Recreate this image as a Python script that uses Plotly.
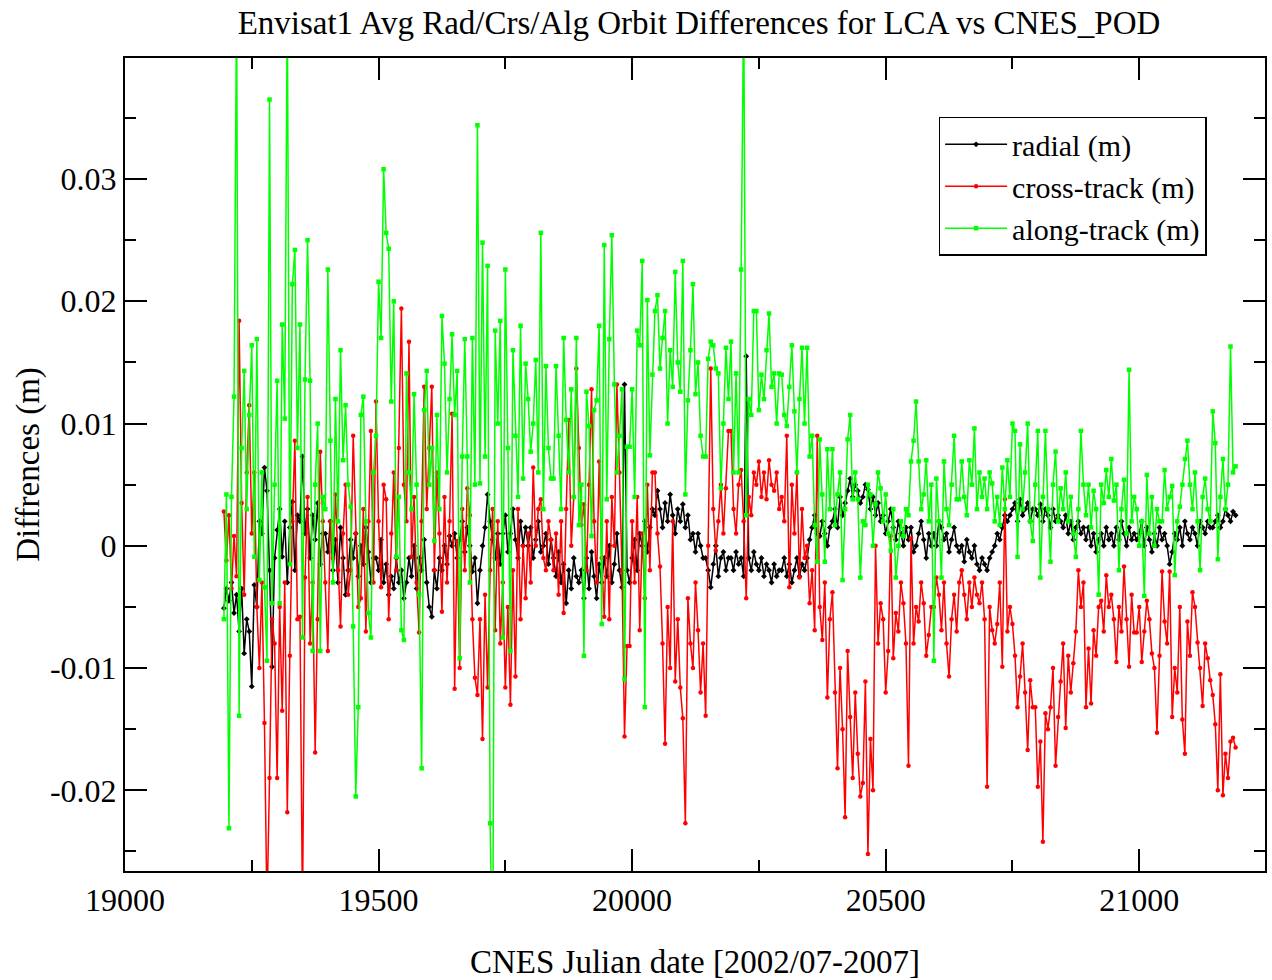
import plotly.graph_objects as go

# sampling of the orbit-difference series (CNES Julian days)
day_start = 19195
day_step = 5

# values in millimetres, 10 samples per line (50 days per line)
radial_mm = [
    -5.1, -3.5, -4.5, -3, -5.5, -4, -7, -3.5, -8.8, -6,
    -7, -11.5, -3.2, -5, 2, 1, 6.4, 4.5, -2, -9.9,
    -1, 1.3, 3, -0.9, 2, -3, 1.5, 3.6, -2, 2.5,
    2, 7.3, 1, 3, -1, 2.5, 0.5, 3.5, -1.5, 1,
    1, -0.5, 2, -2, 0.5, -3, 1.5, -1, -4, -2,
    0.5, -1, 1, -2.5, 0, -1.5, 1.5, -0.5, -3, -1,
    -1, -2, 0.5, -3, -1.5, -4, -2.5, -3.5, -1, -3,
    -2, -4.3, -3, -1, -2.5, 0, -3.5, -1, -2, 0.5,
    -3, -5, -5.8, -2, -3.5, -1, -2, 0, -1.5, 0.8,
    0, 1, -1, 0.5, 2, -0.5, 1.5, 0, -2.1, -1,
    -4.7, -2, 0, 1.5, 4.2, 2, 0.5, -1, 1, -1.5,
    1, 2.5, -0.5, 1, 3, 0.5, -1, 2, 0, 1.5,
    0, 1.5, -1, 0.5, 2, -0.5, 0, 1, -1.5, 0.5,
    -1, -2.5, -0.5, -3, -1.5, -4.7, -2, -3.5, -1, -2.5,
    -3, -2, -4.3, -1, -3.5, -0.5, -2.5, -4.3, -1.5, -3,
    -1, -2.5, 0, -3, -1.5, 1, -2, -3.4, 13.2, -2,
    -3, -1, 0.5, -2, 1, 0, 2, -0.5, 1.5, 3,
    2.5, 4.5, 3, 1.5, 3.5, 2, 4.2, 2.5, 1, 3,
    2, 3.4, 1.5, 2.5, 0.5, 1, -0.5, 1, 0, -1,
    -1, -2, -3.4, -1.5, 0, -2.5, -1, -0.5, -2, -1,
    -1, -2, -0.5, -1.5, -1, -2.5, 15.5, -1, -2, -0.5,
    -1.5, -2, -1, -2.5, -1.5, -2, -3, -1.5, -2.5, -2,
    -2, -1, -2.5, -1.5, -3, -2, -1, -2.5, -1.5, -2,
    -1, 0.5, 1.5, 2.5, 1, 0.8, 2, 1, 0, 1.5,
    2, 3, 1.5, 4, 2.5, 3.5, 4.5, 5.5, 4, 5,
    4.5, 3.5, 4, 5, 4.6, 3, 4, 2.5, 3.5, 2,
    2.5, 1, 2, 3, 1.5, 0.5, 2, 1, 0, 1.5,
    0.5, 1.5, -0.5, 0, 1, 2, 0.5, -1, 1, 0,
    1, 0, 2, 1.5, 0.5, 1, -0.5, 0.5, 1.5, 0,
    -0.5, 0, -1.3, 0.5, -0.5, -1, 0, -1.5, -2, -1,
    -1.5, -2, -1, -0.5, 0, 1, 0.5, 1.5, 2.5, 2,
    2.5, 3, 3.5, 2, 3.8, 2.5, 3, 3.5, 2, 3,
    3, 2.5, 3.4, 2, 3, 2.5, 1.5, 3, 2, 2.5,
    2, 1.5, 2.5, 1, 2, 0.5, 1.5, 2, 1, 1.5,
    0.5, 1.5, 0, 1, -0.5, 0.5, 1, 0, 1.5, 0.5,
    1, 0, 1.5, 0.5, 2, 1, 0, 1.5, 0.5, 1,
    0.5, 1, 2, 0, 1.5, 0.5, -0.5, 1, 0, 1.5,
    0.5, 1, 0, -1.5, -0.5, 1, 0.5, 1.5, 0, 2,
    1, 0.5, 1.5, 1, 0, 2, 1.5, 1, 2, 1.5,
    1.5, 2, 2.5, 1.5, 2, 3, 2.5, 2, 2.8, 2.5,
]

cross_track_mm = [
    2.8, -1.2, 2.5, -3.5, 0.8, -2.5, 18.4, 3.5, -4, 6,
    11.5, 1, 6, -5, -10, -3, -14.5, -30, -19, -6,
    -8, -19, -5, -13.5, -3, -21.8, -9, 2, 8.6, -6,
    -5.8, -30, -2.6, 4, -8, -3, -16.9, -6, 7.7, 2,
    -3, -8.6, 2, -1, 4.2, -2, -6.6, 1, 5, -4,
    -2, 9, 1, -5, -4.3, 3, -7, 2, 9.4, -3,
    11.8, 2, -3.4, 5, 3.8, -6, 1, 6, -2, 8,
    19.4, 5, 2, 16.7, -0.9, 4, -3, -7.1, 2, 13,
    3, 8, 13, -2, 6, 1, -5.4, 4, -3, 2,
    10.8, -11.7, 0.4, -10, 3, -2, 4.7, 2.5, -6, -10.8,
    -12.2, -6, -15.8, -4, -11.6, -2, 3, -6.9, 2, -8,
    -3, -11.6, -5, -13, -2, -10.7, 3, -6, 0, -4.3,
    1, -3, 6.4, 0, 3, 3.8, -1, -2, 2, 0.5,
    -2, 1, -4, 2, -5.5, 3, 10.3, 0, 4, 14.5,
    8, 1.7, 3.4, -2, 5, 12.8, 2, -3, 6.9, -1,
    -5.8, 2, -6, 4, 0, 13.2, 6, -2, -15.6, -8.2,
    -8.2, 2, -3, 4, -6.9, 1, -4.3, 5, -2, 6,
    6, 1, -1.7, -8, -16.2, -5, -10, 2, -11.1, -6,
    -11.6, -14.1, -22.7, -4.3, -8, -10, -3, -6.9, -12, -8,
    -13.9, 0, 14.5, 3, -0.4, 2, 5, 1, 4.7, 9.4,
    9.4, 3, 1, 5, 6.2, 2, -4.3, 4, 2.5, 6,
    5, 6.9, 4, 6, 3.8, 7, 5, 4.5, 6, 3,
    4, 2, 9, -3.4, 5, 1, 6, -2.6, 3, -1,
    0, -4.7, -2, -6.9, 9, -5, -7.7, -3, -12.4, -6,
    -3.8, -12, -18.2, -10, -15, -22.2, -8.6, -14, -19, -12,
    -17, -20.5, -19.4, -11.1, -25.2, -15.8, -20, 0, -8, -4.7,
    -6, -12, -8.6, 0.8, -9.2, -5.5, -7, -3, -4.7, -8,
    -18, 0.6, -8, -5, -6.2, -3, -4.7, -9, -7.3, -5,
    -5, -2.6, -4, -6.9, -3, -8, -10.7, -6, -4, -7,
    -3, -2, -4, -6, -3, -5, -2.6, -4, -4.7, -3,
    -6, -19.7, -5, -6.9, -8, -6.4, -3, -9.9, 3.8, -7,
    -5, -6.4, -9, -13.2, -10.7, -8, -12, -16.7, -11, -13.2,
    -13.2, -19.7, -16, -24.2, -13.7, -15, -13.2, -10, -18, -14,
    -11.1, -8, -14.9, -9, -12, -9.6, -7, -2, -5, -3,
    -13.2, -8.4, -12.9, -6.9, -9, -5, -4.5, -7, -2.4, -5,
    -4, -6, -9.5, -5, -7, -1.7, -6, -9.9, -4, -7.1,
    -7.1, -5, -9.5, -7, -4.5, -6, -8.8, -10, -15.3, -9,
    -2.1, -6.2, -8, -2.1, -14, -10, -12, -5, -14.2, -17,
    -6.2, -9, -3.8, -5, -7.9, -10, -13.1, -8, -9.2, -11,
    -12.2, -14.6, -20, -10.5, -20.4, -17, -19, -16, -15.7, -16.5,
]

along_track_mm = [
    -6, 4.2, -23.1, 4, 12.2, 45, -13.9, 8, 14.3, 3,
    10.7, 16.4, -0.9, 16.9, -2.8, 6, -3.4, -9.4, 36.5, -4.7,
    5, 13.5, -4.7, 18.1, 10.4, 45, -1.5, 21.4, 24.2, 8,
    18.1, -7.5, 13.6, 25, 13.5, -8.6, 5, 10, -8.6, 4,
    3, 22.6, 8.6, -3, 12, 2, 16, 7, 11.5, 5,
    3.2, -6.6, -20.5, -13.2, 10.7, 12.2, 2, -5.5, -7.5, 6,
    9, 21.6, 17, 30.8, 25.6, 24.3, 11.8, 20, -0.9, 4,
    -6.9, -7.7, 14.1, 6, 3, 12.4, 5, -4, -18.2, 11.1,
    14.3, 5, 8, 0.4, 10.7, 3, 18.8, 14.9, 6, 12,
    17.3, 10.7, 14.3, -9.2, 7.3, 16.9, 7.3, -3, 17, 5,
    34.4, 5.1, 24.8, 7.3, 22.9, -22.7, -35, 17.6, 10, 18.4,
    -7.5, 22.6, 8, -8.6, 16, 9, 4, 18, 5.5, 14.9,
    12, 7.7, 10, 15.2, 6, 25.6, 3, 14.7, 8, 5.5,
    5.5, 14.7, 9, 3, 17, 10.3, 6, 12.8, 4, 17,
    1.7, 5, -9, 12.6, 9.8, 0.8, 11.1, 11.9, 18, -6.4,
    24.6, 3.8, 16.9, 25.4, 13.2, 6, 9, 12.8, -10.9, 8.1,
    8.1, 12.8, 4, 17.6, 16.4, 23.3, -13.2, 20.1, 7.4, 14,
    19.2, 20.5, 14.5, 17, 19.2, 10, 16, 13, 22.4, 15,
    12.6, 23.3, 4.2, 11.9, 16, 21.4, 12.4, 15, 9, 7.3,
    7.3, 15.3, 16.7, 16.4, 14.5, 14.1, 4.7, 10, 16.2, 12,
    16.7, 6, 14.1, 6, 22.6, 45, 2.5, 12, 10.7, 19.2,
    19.2, 11.1, 14, 12, 16, 19, 13, 14.1, 10, 14.1,
    14, 10.7, 9.8, 13, 16.4, 11, 6, 12, 16.2, 10,
    16.2, 7.3, 9, 1.7, -1.3, 8.7, 4.2, -1.3, 7.9, 3,
    7.9, 1.7, 4.2, 6, -2.8, 3, 8.7, 10.7, 3.8, 6,
    3.8, -2.6, 2, 1.7, 5, 4.2, 0, 3.4, 6, 4.7,
    2, 4.2, 1, -0.4, 3, -2.6, 0, 2, 0.8, 3,
    2.5, 6.9, 8.6, 11.8, 6.9, 3, 4.2, 7, 2, 5,
    -9.4, 5.5, 2, -2.6, 6.9, 3, 1.7, 5, 9, 3.8,
    3.8, 6.9, 4, 2.5, 7, 5, 9.6, 3, 6, 4,
    5.5, 3, 6, 5.1, 2, 4, 1.7, 6.4, 3, 7,
    4, 10, 9.4, -0.9, 8.3, 3, 6, 10, 2, 0.4,
    5, 9.4, -2.6, 4, 9.4, 3, -1.3, 5, 7.7, 2,
    4.7, 3, 6, 2, 4, 1, -0.9, 3, 9.4, 5,
    2.5, 5, 1.5, 4.5, 3, -4, 5, 3.5, 6.2, 4,
    7.1, 3.7, 5, -2, 3, 5.4, 1, 14.4, 2, 4,
    3, 0, 2, -4.1, 5.8, 1, 4, 0, 3, 2,
    2, 6.2, 3, 4, 4.9, -2.4, 2, 3.2, 5, 7.1,
    8.6, 5, 3, 6, 2, -2, 4, 5.5, 3, 2,
    11, 8.4, -1.1, 4, 7.1, 3, 5, 16.3, 6, 6.5,
]

series_names = ["radial (m)", "cross-track (m)", "along-track (m)"]
series_colors = ["#000000", "#ff0000", "#00ff00"]
series_symbols = ["diamond", "circle", "square"]

y_tick_vals = [-0.02, -0.01, 0, 0.01, 0.02, 0.03]
y_tick_text = ["-0.02", "-0.01", "0", "0.01", "0.02", "0.03"]
x_tick_vals = [19000, 19500, 20000, 20500, 21000]
x_tick_text = ["19000", "19500", "20000", "20500", "21000"]

FONT = "Liberation Serif"

days = [day_start + day_step * i for i in range(len(radial_mm))]

fig = go.Figure()
for name, vals, col, sym in zip(series_names,
                                [radial_mm, cross_track_mm, along_track_mm],
                                series_colors, series_symbols):
    fig.add_trace(go.Scatter(
        x=days, y=[v / 1000.0 for v in vals], name=name,
        mode="lines+markers",
        line=dict(color=col, width=1.5),
        marker=dict(color=col, size=4.5, symbol=sym),
    ))

axis_common = dict(
    showline=True, linecolor="black", linewidth=2, mirror="allticks",
    ticks="inside", ticklen=22, tickwidth=1.5, tickcolor="black",
    showgrid=False, zeroline=False,
    tickfont=dict(family=FONT, size=32, color="black"),
)

fig.update_layout(
    width=1272, height=980,
    margin=dict(l=125, r=5, t=58, b=107),
    paper_bgcolor="white", plot_bgcolor="white",
    font=dict(family=FONT, color="black"),
    title=dict(text="Envisat1 Avg Rad/Crs/Alg Orbit Differences for LCA vs CNES_POD",
               font=dict(family=FONT, size=33, color="black"),
               x=699 / 1272, xref="container", xanchor="center",
               y=1 - 22 / 980, yref="container", yanchor="middle"),
    xaxis=dict(range=[19000, 21248], tickmode="array",
               tickvals=x_tick_vals, ticktext=x_tick_text,
               minor=dict(dtick=250, tick0=19000, ticks="inside", ticklen=11,
                          tickwidth=1.5, tickcolor="black"),
               title=dict(text="CNES Julian date [2002/07-2007]",
                          font=dict(family=FONT, size=33, color="black"),
                          standoff=33),
               **axis_common),
    yaxis=dict(range=[-0.0266, 0.0399], tickmode="array",
               tickvals=y_tick_vals, ticktext=y_tick_text,
               minor=dict(dtick=0.005, tick0=0, ticks="inside", ticklen=11,
                          tickwidth=1.5, tickcolor="black"),
               title=dict(text="Diffrences (m)",
                          font=dict(family=FONT, size=33, color="black"),
                          standoff=0),
               **axis_common),
    legend=dict(x=(940 - 125) / 1142, y=(873 - 117) / 815,
                xanchor="left", yanchor="top", itemwidth=62,
                bgcolor="white", bordercolor="black", borderwidth=1.5,
                font=dict(family=FONT, size=30, color="black")),
    showlegend=True,
)

fig.write_html("out.html")
